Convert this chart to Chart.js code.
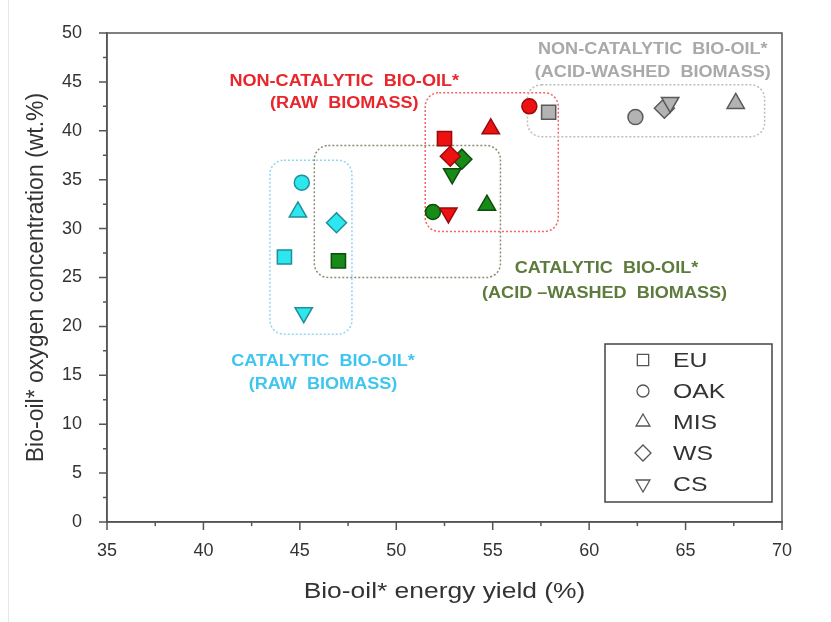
<!DOCTYPE html>
<html>
<head>
<meta charset="utf-8">
<script src="https://cdn.jsdelivr.net/npm/chart.js@4/dist/chart.umd.min.js"></script>
<style>
  html, body { margin: 0; padding: 0; background: #fff; }
  #wrap { width: 831px; height: 622px; position: relative; }
</style>
</head>
<body>
<div id="wrap"><canvas id="chart"></canvas></div>
<script>
// feedstocks, same order in every series below
const feedstocks = ['EU', 'OAK', 'MIS', 'WS', 'CS'];

// catalytic bio-oil, raw biomass
const cataRawX = [44.2, 45.1, 44.9, 46.9, 45.2];
const cataRawY = [27.1, 34.7, 31.7, 30.6, 21.4];
// non-catalytic bio-oil, raw biomass
const nonCataRawX = [52.5, 56.9, 54.9, 52.8, 52.7];
const nonCataRawY = [39.2, 42.5, 40.2, 37.4, 31.6];
// catalytic bio-oil, acid-washed biomass
const cataAcidX = [47.0, 51.9, 54.7, 53.4, 52.9];
const cataAcidY = [26.7, 31.7, 32.4, 37.1, 35.6];
// non-catalytic bio-oil, acid-washed biomass
const nonCataAcidX = [57.9, 62.4, 67.6, 63.9, 64.2];
const nonCataAcidY = [41.9, 41.4, 42.8, 42.3, 42.9];

const xTicks = [35, 40, 45, 50, 55, 60, 65, 70];
const yTicks = [0, 5, 10, 15, 20, 25, 30, 35, 40, 45, 50];

const xTitle = 'Bio-oil* energy yield (%)';
const yTitle = 'Bio-oil* oxygen concentration (wt.%)';

// marker look per feedstock
const shapes = ['rect', 'circle', 'triangle', 'rectRot', 'triangle'];
const turns = [0, 0, 0, 0, 180];
const sizes = [10, 7.5, 10, 10, 10];

const toPoints = (xs, ys) => xs.map((x, i) => ({ x: x, y: ys[i] }));

function group(label, xs, ys, fill, edge) {
  return {
    label: label,
    data: toPoints(xs, ys),
    pointStyle: shapes,
    pointRotation: turns,
    pointRadius: sizes,
    pointBackgroundColor: fill,
    pointBorderColor: edge,
    pointBorderWidth: 1.5,
    showLine: false
  };
}

// dashed group outlines, in data units
const outlines = [
  { x0: 43.45, x1: 47.7, y0: 19.2, y1: 37.0, color: '#8fd6f2' },
  { x0: 45.75, x1: 55.4, y0: 25.0, y1: 38.5, color: '#8c8c72' },
  { x0: 51.5, x1: 58.4, y0: 29.7, y1: 43.9, color: '#f06464' },
  { x0: 56.8, x1: 69.1, y0: 39.4, y1: 44.7, color: '#bdbdbd' }
];

const notes = [
  { x: 47.3, y: 45.0, text: 'NON-CATALYTIC  BIO-OIL*', color: '#e8262b' },
  { x: 47.3, y: 42.8, text: '(RAW  BIOMASS)', color: '#e8262b' },
  { x: 63.3, y: 48.3, text: 'NON-CATALYTIC  BIO-OIL*', color: '#a9a9a9' },
  { x: 63.3, y: 46.0, text: '(ACID-WASHED  BIOMASS)', color: '#a9a9a9' },
  { x: 60.9, y: 25.9, text: 'CATALYTIC  BIO-OIL*', color: '#5e7a3c' },
  { x: 60.8, y: 23.4, text: '(ACID \u2013WASHED  BIOMASS)', color: '#5e7a3c' },
  { x: 46.2, y: 16.4, text: 'CATALYTIC  BIO-OIL*', color: '#3fc6f0' },
  { x: 46.2, y: 14.0, text: '(RAW  BIOMASS)', color: '#3fc6f0' }
];

const frameColor = '#555';
const fontFamily = '"Liberation Sans", Arial, sans-serif';

// the source picture is a bit stretched sideways, so text gets a small x-scale
function wideText(ctx, text, x, y, sx) {
  ctx.save();
  ctx.translate(x, y);
  ctx.scale(sx, 1);
  ctx.fillText(text, 0, 0);
  ctx.restore();
}

const decor = {
  id: 'decor',
  beforeDatasetsDraw(chart) {
    const { ctx, scales: { x, y } } = chart;
    ctx.save();
    ctx.lineWidth = 1.5;
    ctx.setLineDash([2, 2]);
    outlines.forEach(b => {
      const l = x.getPixelForValue(b.x0), r = x.getPixelForValue(b.x1);
      const t = y.getPixelForValue(b.y1), bt = y.getPixelForValue(b.y0);
      ctx.strokeStyle = b.color;
      ctx.beginPath();
      ctx.roundRect(l, t, r - l, bt - t, 14);
      ctx.stroke();
    });
    ctx.restore();
  },
  afterDraw(chart) {
    const { ctx, chartArea: a, scales: { x, y } } = chart;
    ctx.save();

    // annotation texts
    ctx.font = 'bold 16px ' + fontFamily;
    ctx.textAlign = 'center';
    ctx.textBaseline = 'middle';
    notes.forEach(n => {
      ctx.fillStyle = n.color;
      wideText(ctx, n.text, x.getPixelForValue(n.x), y.getPixelForValue(n.y), 1.13);
    });

    // axis titles
    ctx.fillStyle = '#333';
    ctx.font = '22px ' + fontFamily;
    wideText(ctx, xTitle, (a.left + a.right) / 2, 592, 1.2);
    ctx.save();
    ctx.translate(37, (a.top + a.bottom) / 2);
    ctx.rotate(-Math.PI / 2);
    ctx.font = '23px ' + fontFamily;
    ctx.fillText(yTitle, 0, 0);
    ctx.restore();

    // frame + ticks
    ctx.strokeStyle = frameColor;
    ctx.lineWidth = 1.5;
    ctx.strokeRect(a.left, a.top, a.right - a.left, a.bottom - a.top);
    ctx.beginPath();
    for (let v = 35; v <= 70; v += 2.5) {
      const px = x.getPixelForValue(v);
      const len = v % 5 === 0 ? 8 : 4;
      ctx.moveTo(px, a.bottom);
      ctx.lineTo(px, a.bottom + len);
    }
    for (let v = 0; v <= 50; v += 2.5) {
      const py = y.getPixelForValue(v);
      const len = v % 5 === 0 ? 8 : 4;
      ctx.moveTo(a.left, py);
      ctx.lineTo(a.left - len, py);
    }
    ctx.stroke();

    // legend box (hollow symbols)
    const lx = a.right - 177, ly = a.bottom - 178, lw = 167, lh = 158;
    ctx.strokeStyle = '#444';
    ctx.strokeRect(lx, ly, lw, lh);
    ctx.font = '21px ' + fontFamily;
    ctx.textAlign = 'left';
    feedstocks.forEach((name, i) => {
      const cy = ly + 16 + i * 31;
      ctx.fillStyle = '#fff';
      ctx.strokeStyle = '#555';
      ctx.lineWidth = 1.3;
      Chart.helpers.drawPoint(ctx, {
        pointStyle: shapes[i], rotation: turns[i], radius: sizes[i] * 0.8, borderWidth: 1.3
      }, lx + 38, cy);
      ctx.fillStyle = '#333';
      wideText(ctx, name, lx + 68, cy + 1, 1.18);
    });

    // faint page edge on the left
    ctx.strokeStyle = '#e6e6e6';
    ctx.lineWidth = 1;
    ctx.beginPath();
    ctx.moveTo(8.5, 0);
    ctx.lineTo(8.5, 622);
    ctx.stroke();
    ctx.restore();
  }
};

const tickFont = { family: fontFamily, size: 18 };

new Chart(document.getElementById('chart'), {
  type: 'scatter',
  data: {
    datasets: [
      group('Catalytic, raw', cataRawX, cataRawY, '#2ee6ee', '#1f8f99'),
      group('Non-catalytic, raw', nonCataRawX, nonCataRawY, '#ee1111', '#9a0a0a'),
      group('Catalytic, acid-washed', cataAcidX, cataAcidY, '#178a17', '#0b4d0b'),
      group('Non-catalytic, acid-washed', nonCataAcidX, nonCataAcidY, '#b3b3b3', '#5a5a5a')
    ]
  },
  options: {
    responsive: true,
    maintainAspectRatio: false,
    animation: false,
    layout: { padding: { left: 0, top: 33, right: 49, bottom: 0 } },
    plugins: {
      legend: { display: false },
      tooltip: { enabled: false }
    },
    scales: {
      x: {
        type: 'linear',
        min: 35,
        max: 70,
        afterFit: s => { s.height = 100; },
        afterBuildTicks: s => { s.ticks = xTicks.map(v => ({ value: v })); },
        grid: { display: false },
        border: { display: true, color: frameColor, width: 1.5 },
        ticks: { color: '#333', font: tickFont, padding: 10, maxRotation: 0 }
      },
      y: {
        type: 'linear',
        min: 0,
        max: 50,
        afterFit: s => { s.width = 107; },
        afterBuildTicks: s => { s.ticks = yTicks.map(v => ({ value: v })); },
        grid: { display: false },
        border: { display: true, color: frameColor, width: 1.5 },
        ticks: { color: '#333', font: tickFont, padding: 17 }
      }
    }
  },
  plugins: [decor]
});
</script>
</body>
</html>
